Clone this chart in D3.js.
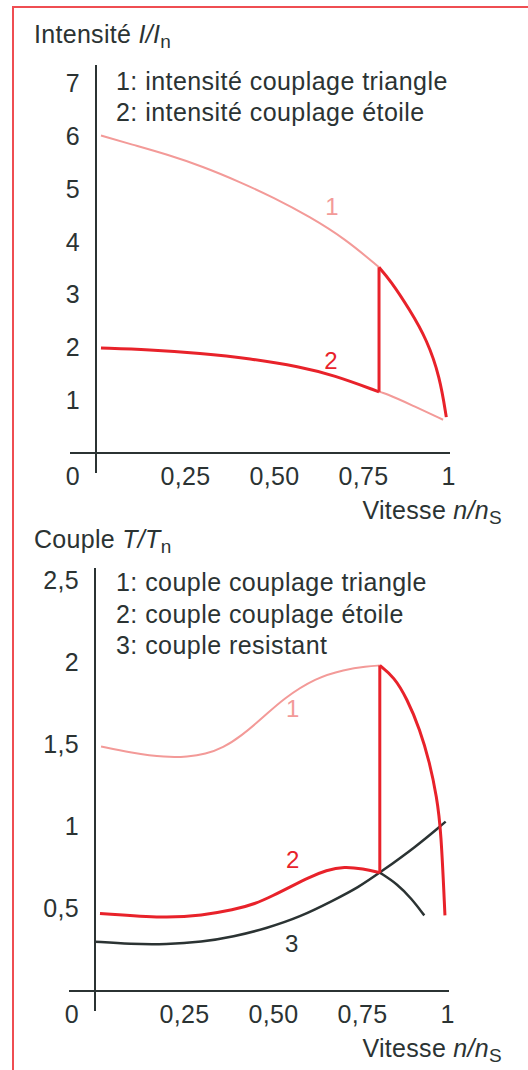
<!DOCTYPE html>
<html>
<head>
<meta charset="utf-8">
<script src="https://cdn.jsdelivr.net/npm/d3@7"></script>
<style>
  body { margin: 0; background: #fff; }
  svg { display: block; }
  text { font-family: "Liberation Sans", Arial, Helvetica, sans-serif; fill: #2b3333; letter-spacing: 0.3px; }
</style>
</head>
<body>
<svg id="chart"></svg>
<script>
// x axis (vitesse n/ns)
const xTicks = [0.25, 0.5, 0.75, 1];
const xTickLabels = ['0,25', '0,50', '0,75', '1'];

// intensité I/In
const iTicks = [1, 2, 3, 4, 5, 6, 7];
const iTickLabels = ['1', '2', '3', '4', '5', '6', '7'];
const iLegend = ['1: intensité couplage triangle', '2: intensité couplage étoile'];
const iSwitch = 0.795;
const iTriangle = [[0.014, 6.02], [0.1, 5.85], [0.2, 5.66], [0.3, 5.43], [0.4, 5.15], [0.5, 4.84], [0.6, 4.48], [0.7, 4.06], [0.795, 3.52],
  [0.826, 3.28], [0.882, 2.71], [0.93, 2.14], [0.966, 1.44], [0.984, 0.68]];
const iEtoile = [[0.014, 1.99], [0.15, 1.96], [0.292, 1.89], [0.433, 1.79], [0.573, 1.636], [0.666, 1.478], [0.795, 1.16],
  [0.81, 1.14], [0.89, 0.9], [0.975, 0.63]];

// couple T/Tn
const tTicks = [0.5, 1, 1.5, 2, 2.5];
const tTickLabels = ['0,5', '1', '1,5', '2', '2,5'];
const tLegend = ['1: couple couplage triangle', '2: couple couplage étoile', '3: couple resistant'];
const tSwitch = 0.8;
const tTriangle = [[0.017, 1.487], [0.1, 1.45], [0.2, 1.42], [0.26, 1.425], [0.31, 1.44], [0.36, 1.48], [0.41, 1.55], [0.47, 1.66], [0.53, 1.78], [0.62, 1.905], [0.7, 1.955], [0.763, 1.975], [0.8, 1.98],
  [0.84, 1.91], [0.876, 1.78], [0.913, 1.59], [0.94, 1.39], [0.96, 1.18], [0.972, 0.98], [0.983, 0.46]];
const tEtoile = [[0.014, 0.472], [0.2, 0.442], [0.3, 0.46], [0.389, 0.493], [0.45, 0.53], [0.5, 0.58], [0.55, 0.635], [0.6, 0.69], [0.65, 0.735], [0.7, 0.757], [0.753, 0.743], [0.8, 0.72],
  [0.85, 0.65], [0.89, 0.56], [0.925, 0.46]];
const tResistant = [[0, 0.30], [0.1, 0.285], [0.2, 0.283], [0.3, 0.298], [0.389, 0.33], [0.48, 0.38], [0.576, 0.45], [0.669, 0.55], [0.74, 0.63], [0.8, 0.72],
  [0.9, 0.875], [0.985, 1.03]];

const W = 528, H = 1070;
const red = '#e8222a', pink = '#f39a98', dark = '#2b3333';
const fs = 25;

const svg = d3.select('#chart').attr('width', W).attr('height', H);

// red frame
svg.append('path')
  .attr('d', `M13,${H} V7 H${W}`)
  .attr('fill', 'none')
  .attr('stroke', '#ef4d52')
  .attr('stroke-width', 2);

function title(g, x, y, main, ital, sub) {
  const t = g.append('text').attr('x', x).attr('y', y).style('font-size', fs + 'px');
  t.append('tspan').text(main);
  t.append('tspan').style('font-style', 'italic').text(ital);
  t.append('tspan').attr('dy', 5).style('font-size', '19px').text(sub);
  return t;
}

function panel(opt) {
  const x = d3.scaleLinear().domain([0, 1]).range([opt.x0, opt.x0 + 356]);
  const y = d3.scaleLinear().domain([0, opt.ymax]).range([opt.y0, opt.y0 - opt.ymax * opt.k]);
  const g = svg.append('g');

  title(g, 34, opt.titleY, opt.titleMain, opt.titleItal, 'n');

  // axis lines
  g.append('line')
    .attr('x1', x(0)).attr('x2', x(0))
    .attr('y1', opt.axisTop).attr('y2', y(0) + 20)
    .attr('stroke', dark).attr('stroke-width', 2);
  g.append('line')
    .attr('x1', x(0) - 26).attr('x2', x(1) - 2)
    .attr('y1', y(0)).attr('y2', y(0))
    .attr('stroke', dark).attr('stroke-width', 2);

  // tick labels via d3 axes
  const yAxis = d3.axisLeft(y).tickValues(opt.yTicks).tickSize(0).tickPadding(16)
    .tickFormat((d, i) => opt.yLabels[i]);
  const ya = g.append('g').attr('transform', `translate(${x(0)},0)`).call(yAxis);
  ya.select('.domain').remove();
  ya.selectAll('text').style('font-size', fs + 'px').style('font-family', null).attr('fill', dark);

  const xAxis = d3.axisBottom(x).tickValues(xTicks).tickSize(0).tickPadding(14)
    .tickFormat((d, i) => xTickLabels[i]);
  const xa = g.append('g').attr('transform', `translate(0,${y(0)})`).call(xAxis);
  xa.select('.domain').remove();
  xa.selectAll('text').style('font-size', fs + 'px').style('font-family', null).attr('fill', dark)
    .attr('dx', (d) => d === 1 ? -4 : 0);

  g.append('text').attr('x', x(0) - 16).attr('y', y(0) + 32)
    .attr('text-anchor', 'end').style('font-size', fs + 'px').text('0');

  // x title
  const xt = g.append('text').attr('x', 502).attr('y', y(0) + 66)
    .attr('text-anchor', 'end').style('font-size', fs + 'px');
  xt.append('tspan').text('Vitesse ');
  xt.append('tspan').style('font-style', 'italic').text('n/n');
  xt.append('tspan').attr('dy', 5).style('font-size', '19px').text('S');

  // legend
  g.selectAll('.leg').data(opt.legend).enter().append('text')
    .attr('class', 'leg')
    .attr('x', 116)
    .attr('y', (d, i) => opt.legendY + i * 31.5)
    .style('font-size', fs + 'px')
    .style('letter-spacing', '0.45px')
    .text(d => d);

  const line = d3.line().x(d => x(d[0])).y(d => y(d[1])).curve(d3.curveBasis);
  return { g, x, y, line };
}

function seg(data, s, before) {
  return data.filter(d => before ? d[0] <= s : d[0] >= s);
}

function draw(g, line, data, color, width) {
  g.append('path').datum(data)
    .attr('d', line)
    .attr('fill', 'none')
    .attr('stroke', color)
    .attr('stroke-width', width)
    .attr('stroke-linejoin', 'round');
}

function label(g, x, y, txt, color) {
  g.append('text').attr('x', x).attr('y', y).attr('text-anchor', 'middle')
    .style('font-size', '24px').style('fill', color).text(txt);
}

// ---- intensité
const p1 = panel({
  x0: 96, y0: 453, k: 52.75, ymax: 7, axisTop: 65,
  titleY: 43, titleMain: 'Intensité ', titleItal: 'I/I',
  yTicks: iTicks, yLabels: iTickLabels,
  legend: iLegend, legendY: 89.5
});
draw(p1.g, p1.line, seg(iTriangle, iSwitch, true), pink, 2);
draw(p1.g, p1.line, seg(iEtoile, iSwitch, false), pink, 2);
draw(p1.g, p1.line, seg(iEtoile, iSwitch, true), red, 3);
draw(p1.g, p1.line, seg(iTriangle, iSwitch, false), red, 3);
p1.g.append('line')
  .attr('x1', p1.x(iSwitch)).attr('x2', p1.x(iSwitch))
  .attr('y1', p1.y(seg(iTriangle, iSwitch, true).pop()[1]))
  .attr('y2', p1.y(seg(iEtoile, iSwitch, true).pop()[1]))
  .attr('stroke', red).attr('stroke-width', 3);
label(p1.g, p1.x(0.663), p1.y(4.5) - 1, '1', pink);
label(p1.g, p1.x(0.66), p1.y(1.57) - 1, '2', red);

// ---- couple
const p2 = panel({
  x0: 95, y0: 991, k: 164.4, ymax: 2.5, axisTop: 568,
  titleY: 548, titleMain: 'Couple ', titleItal: 'T/T',
  yTicks: tTicks, yLabels: tTickLabels,
  legend: tLegend, legendY: 591
});
draw(p2.g, p2.line, seg(tTriangle, tSwitch, true), pink, 2);
draw(p2.g, p2.line, tResistant, dark, 2.5);
draw(p2.g, p2.line, seg(tEtoile, tSwitch, false), dark, 2.5);
draw(p2.g, p2.line, seg(tEtoile, tSwitch, true), red, 3);
draw(p2.g, p2.line, seg(tTriangle, tSwitch, false), red, 3);
p2.g.append('line')
  .attr('x1', p2.x(tSwitch)).attr('x2', p2.x(tSwitch))
  .attr('y1', p2.y(seg(tTriangle, tSwitch, true).pop()[1]))
  .attr('y2', p2.y(seg(tEtoile, tSwitch, true).pop()[1]))
  .attr('stroke', red).attr('stroke-width', 3);
label(p2.g, p2.x(0.556), p2.y(1.68) + 2, '1', pink);
label(p2.g, p2.x(0.556), p2.y(0.75), '2', red);
label(p2.g, p2.x(0.553), p2.y(0.28) + 7, '3', dark);
</script>
</body>
</html>
